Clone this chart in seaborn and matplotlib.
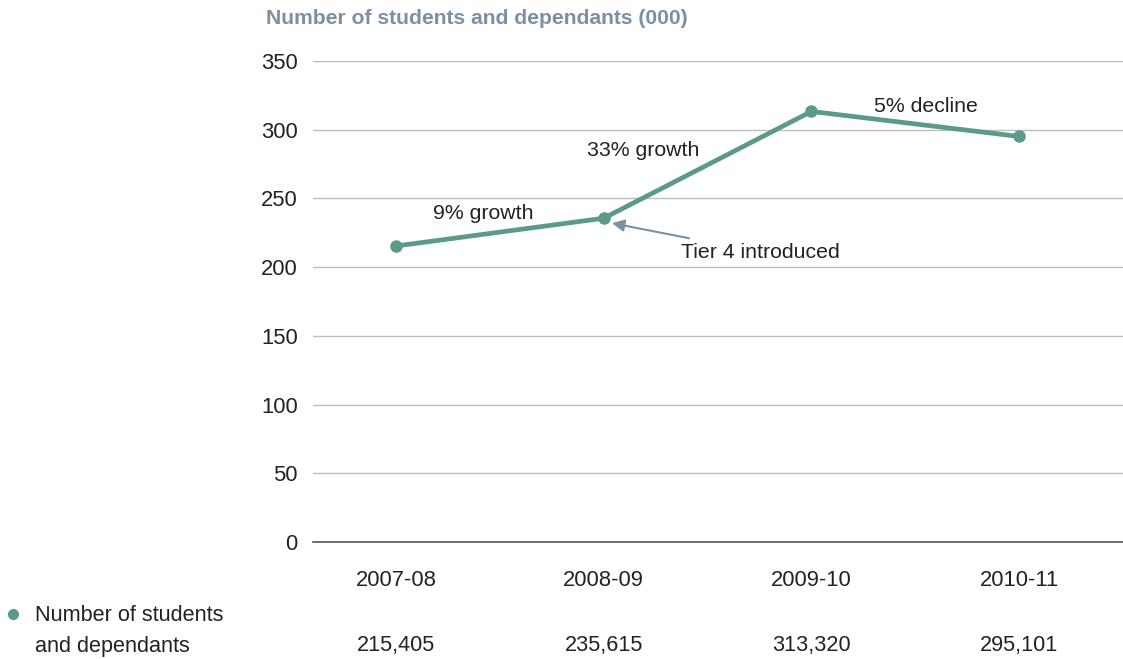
import matplotlib
matplotlib.use("Agg")
import matplotlib.pyplot as plt
import matplotlib.transforms as mtransforms
import seaborn as sns
import pandas as pd

# Data
years = ["2007-08", "2008-09", "2009-10", "2010-11"]
students = [215405, 235615, 313320, 295101]
y_ticks = [0, 50, 100, 150, 200, 250, 300, 350]
series_label = "Number of students\nand dependants"
title = "Number of students and dependants (000)"
change_labels = ["9% growth", "33% growth", "5% decline"]
event_label = "Tier 4 introduced"

LINE = "#5b9a8b"
SLATE = "#7b90a6"
TEXT = "#222222"

sns.set_style("white")
plt.rcParams["font.family"] = ["Liberation Sans", "DejaVu Sans"]

df = pd.DataFrame({"pos": range(len(years)), "value": [v / 1000 for v in students]})

fig = plt.figure(figsize=(11.23, 6.59), dpi=100)
ax = fig.add_axes([0.2787, 0.1775, 0.7213, 0.7299])

sns.lineplot(data=df, x="pos", y="value", ax=ax, color=LINE, linewidth=3.4,
             marker="o", markersize=9, markeredgewidth=0, zorder=3)

ax.set_xlim(-0.4, 3.5)
ax.set_ylim(0, 350)
ax.set_yticks(y_ticks)
ax.set_yticklabels([str(t) for t in y_ticks])
ax.set_xticks(range(len(years)))
ax.set_xticklabels(years)
ax.yaxis.grid(True, color="#bdbdbd", linewidth=1)
ax.set_axisbelow(True)
for s in ["top", "right", "left"]:
    ax.spines[s].set_visible(False)
ax.spines["bottom"].set_color("#555555")
ax.spines["bottom"].set_linewidth(1.2)
ax.tick_params(axis="x", length=8, width=1, color="#555555", direction="out",
               pad=12, labelsize=15.8, labelcolor=TEXT)
ax.tick_params(axis="y", length=0, pad=11, labelsize=15.8, labelcolor=TEXT)
ax.set_xlabel("")
ax.set_ylabel("")

# Title
fig.text(266 / 1123, 1 - 19 / 659, title, fontsize=15.2, fontweight="bold",
         color=SLATE, ha="left", va="center")

# Change annotations
FS = 15.3
ax.text(0.42, 239, change_labels[0], fontsize=FS, color=TEXT, ha="center", va="center")
ax.text(1.19, 285, change_labels[1], fontsize=FS, color=TEXT, ha="center", va="center")
ax.text(2.55, 317, change_labels[2], fontsize=FS, color=TEXT, ha="center", va="center")

# Event annotation with arrow
ax.annotate(event_label, xy=(1.04, 232), xytext=(1.37, 211),
            fontsize=FS, color=TEXT, ha="left", va="center",
            arrowprops=dict(arrowstyle="-|>", color=SLATE, lw=1.5,
                            mutation_scale=18, shrinkA=4, shrinkB=0))

# Data row below the chart
trans = mtransforms.blended_transform_factory(ax.transData, fig.transFigure)
for i, v in enumerate(students):
    ax.text(i, 1 - 645 / 659, f"{v:,}", transform=trans, fontsize=15.6,
            color=TEXT, ha="center", va="center")

fig.text(35 / 1123, 1 - 631 / 659, series_label, fontsize=15.6, color=TEXT,
         ha="left", va="center", linespacing=1.6)
fig.add_artist(plt.Line2D([13 / 1123], [1 - 614 / 659], marker="o", markersize=8,
                          color=LINE, markeredgewidth=0, transform=fig.transFigure))

fig.savefig("out.png", dpi=100)
